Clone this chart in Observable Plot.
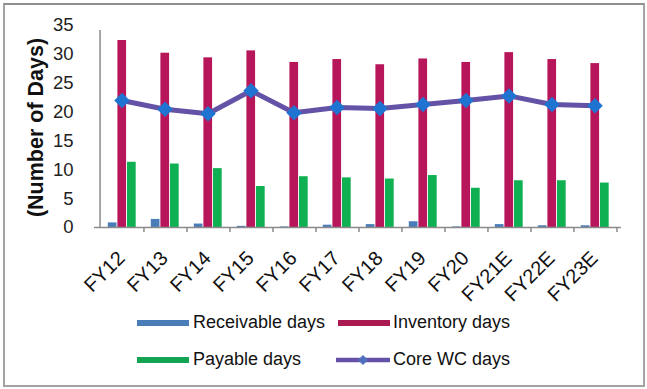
<!DOCTYPE html>
<html>
<head>
<meta charset="utf-8">
<script src="https://cdn.jsdelivr.net/npm/d3@7"></script>
<script src="https://cdn.jsdelivr.net/npm/@observablehq/plot@0.6"></script>
<style>
  html, body { margin: 0; padding: 0; background: #fff; }
  #wrap { position: relative; width: 647px; height: 389px; overflow: hidden; font-family: Arial, "Liberation Sans", sans-serif; }
  #chart { position: absolute; left: 0; top: 0; }
  #border { position: absolute; left: 3px; top: 3px; width: 638px; height: 380px; border: 2px solid #a3a3a3; border-top-color: #8f8f8f; pointer-events: none; }
  .leg { position: absolute; font-size: 18px; color: #111; line-height: 20px; white-space: nowrap; }
  .sw { position: absolute; height: 6px; width: 52px; }
</style>
</head>
<body>
<div id="wrap">
  <div id="chart"></div>
  <div id="legend"></div>
  <div id="border"></div>
</div>
<script>
const categories = ["FY12","FY13","FY14","FY15","FY16","FY17","FY18","FY19","FY20","FY21E","FY22E","FY23E"];
const receivableDays = [0.8, 1.4, 0.6, 0.2, 0.1, 0.4, 0.5, 1.0, 0.1, 0.5, 0.3, 0.3];
const inventoryDays  = [32.4, 30.2, 29.4, 30.6, 28.6, 29.1, 28.2, 29.2, 28.6, 30.3, 29.1, 28.4];
const payableDays    = [11.3, 11.0, 10.2, 7.1, 8.8, 8.6, 8.4, 9.0, 6.8, 8.1, 8.1, 7.7];
const coreWCDays     = [22.0, 20.5, 19.7, 23.7, 19.9, 20.8, 20.6, 21.3, 22.0, 22.8, 21.3, 21.1];
const yTicks = [0, 5, 10, 15, 20, 25, 30, 35];
const seriesNames = ["Receivable days", "Inventory days", "Payable days", "Core WC days"];

const colors = {
  rec: "#4a7db8",
  inv: "#b8165a",
  pay: "#0fb052",
  line: "#6352a6",
  dot: "#1f74d2"
};

const W = 647, H = 300;
const mL = 94, mR = 26, mT = 25, mB = 73;
const bw = (W - mL - mR) / categories.length;

const rows = categories.map((c, i) => ({
  cat: c, rec: receivableDays[i], inv: inventoryDays[i], pay: payableDays[i], core: coreWCDays[i]
}));

const barW = 9.6;
const off0 = 7.8;
function insets(k) {
  const l = off0 + k * barW;
  return { insetLeft: l, insetRight: bw - (l + barW) };
}

const plot = Plot.plot({
  width: W, height: H,
  marginLeft: mL, marginRight: mR, marginTop: mT, marginBottom: mB,
  style: { fontFamily: "Arial, 'Liberation Sans', sans-serif", background: "transparent", overflow: "visible" },
  x: { type: "band", domain: categories, padding: 0, axis: null },
  y: { domain: [0, 35], axis: null },
  marks: [
    Plot.barY(rows, { x: "cat", y: "rec", fill: colors.rec, ...insets(0) }),
    Plot.barY(rows, { x: "cat", y: "inv", fill: colors.inv, ...insets(1) }),
    Plot.barY(rows, { x: "cat", y: "pay", fill: colors.pay, ...insets(2) }),
    Plot.ruleY([0], { stroke: "#8a8a8a", strokeWidth: 1.5 }),
    Plot.ruleX([categories[0]], { x: d => d, y1: 0, y2: 35, dx: -bw / 2, stroke: "#8a8a8a", strokeWidth: 1.5, insetBottom: -5 }),
    Plot.ruleX(categories, { x: d => d, y1: 0, y2: 0, dx: bw / 2, stroke: "#8a8a8a", strokeWidth: 1.5, insetBottom: -5 }),
    Plot.tickY(yTicks, { y: d => d, x: categories[0], stroke: "#8a8a8a", strokeWidth: 1.5, insetLeft: -7, insetRight: bw }),
    Plot.text(yTicks, { y: d => d, frameAnchor: "left", dx: -21, textAnchor: "end", text: d => String(d), fontSize: 18.5, fill: "#222" }),
    Plot.text(["(Number of Days)"], { frameAnchor: "left", dx: -58, dy: 1, rotate: -90, textAnchor: "middle", fontSize: 21.5, fontWeight: "bold", fill: "#111", text: d => d }),
    Plot.text(categories, { x: d => d, y: 0, text: d => d, rotate: -45, textAnchor: "end", lineAnchor: "bottom", dx: 4, dy: 32, fontSize: 20, fill: "#111" }),
    Plot.line(rows, { x: "cat", y: "core", stroke: colors.line, strokeWidth: 5, strokeLinejoin: "round" }),
    Plot.dot(rows, { x: "cat", y: "core", symbol: "diamond2", r: 7, fill: colors.dot, stroke: "none" })
  ]
});
document.getElementById("chart").appendChild(plot);

// Legend (HTML below the SVG)
const legend = document.getElementById("legend");
const legendItems = [
  { name: seriesNames[0], color: colors.rec, sx: 137, tx: 193, y: 323 },
  { name: seriesNames[1], color: "#a81a50", sx: 338, tx: 393, y: 323 },
  { name: seriesNames[2], color: "#13a352", sx: 137, tx: 193, y: 360 },
  { name: seriesNames[3], color: colors.line, sx: 336, tx: 393, y: 360, line: true }
];
legendItems.forEach(it => {
  if (it.line) {
    const ns = "http://www.w3.org/2000/svg";
    const s = document.createElementNS(ns, "svg");
    s.setAttribute("width", 56); s.setAttribute("height", 14);
    s.style.position = "absolute"; s.style.left = it.sx + "px"; s.style.top = (it.y - 7) + "px";
    const l = document.createElementNS(ns, "line");
    l.setAttribute("x1", 0); l.setAttribute("x2", 54); l.setAttribute("y1", 7); l.setAttribute("y2", 7);
    l.setAttribute("stroke", it.color); l.setAttribute("stroke-width", 4.5);
    s.appendChild(l);
    const p = document.createElementNS(ns, "path");
    p.setAttribute("d", "M27,2 L32,7 L27,12 L22,7 Z");
    p.setAttribute("fill", "#4f6fc0");
    s.appendChild(p);
    legend.appendChild(s);
  } else {
    const sw = document.createElement("div");
    sw.className = "sw";
    sw.style.left = it.sx + "px"; sw.style.top = (it.y - 3) + "px";
    sw.style.background = it.color;
    legend.appendChild(sw);
  }
  const t = document.createElement("div");
  t.className = "leg";
  t.textContent = it.name;
  t.style.left = it.tx + "px"; t.style.top = (it.y - 11) + "px";
  legend.appendChild(t);
});
</script>
</body>
</html>
